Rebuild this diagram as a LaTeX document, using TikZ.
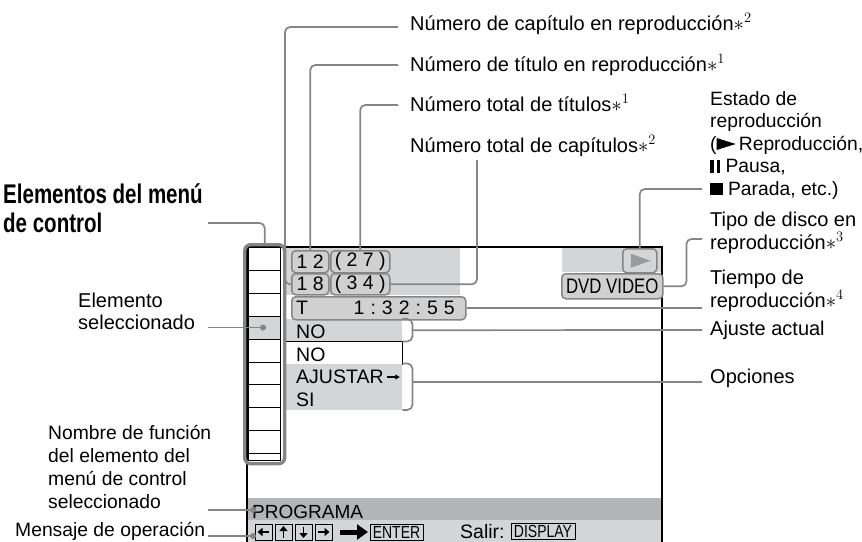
\documentclass[tikz,border=0pt]{standalone}
\usepackage{fontspec}
\setmainfont{Liberation Sans}
\newfontfamily\condfont[FakeStretch=0.8]{Liberation Sans}
\newfontfamily\boldcond[FakeStretch=0.76]{Liberation Sans}
\usetikzlibrary{arrows.meta,calc}
\definecolor{leadgray}{HTML}{858585}
\definecolor{scrgray}{HTML}{D4D5D6}
\definecolor{bargray}{HTML}{B2B4B6}
\definecolor{boxgray}{HTML}{D0D0D0}
\definecolor{playgray}{HTML}{9A9A9A}
\newcommand\playsym{\tikz[x=1pt,y=1pt,baseline=0pt]\fill (0,0) -- (19,6) -- (0,12) -- cycle;}
\newcommand\pausesym{\tikz[x=1pt,y=1pt,baseline=0pt]{\fill (0,0) rectangle (3.6,13); \fill (6.4,0) rectangle (10,13);}}
\newcommand\stopsym{\tikz[x=1pt,y=1pt,baseline=0pt]\fill (0,0) rectangle (12.5,12.5);}
\begin{document}
\begin{tikzpicture}[x=1pt,y=-1pt,
  lead/.style={draw=leadgray,line width=1.7pt,rounded corners=5pt},
  lbl/.style={anchor=base west,inner sep=0pt,font=\fontsize{20}{23}\selectfont},
  lblr/.style={anchor=base west,inner sep=0pt,font=\fontsize{19.3}{23}\selectfont},
  scr/.style={anchor=base west,inner sep=0pt,font=\fontsize{19.5}{22}\selectfont},
  ovbox/.style={draw=leadgray,line width=1.5pt,rounded corners=4pt,fill=boxgray,inner sep=0pt,anchor=north west,font=\fontsize{19.5}{22}\selectfont},
  area/.style={inner sep=0pt,anchor=north west},
  keybox/.style={draw=black,line width=0.8pt,inner sep=0pt},
  ldot/.style={circle,fill=leadgray,inner sep=0pt,minimum size=6pt},
  keyarrow/.style={line width=1.8pt,-{Triangle[length=5pt,width=8pt]}},
  keyfont/.style={font=\condfont\fontsize{17.5}{18}\selectfont}
]
\useasboundingbox (0,0) rectangle (862,541);

% ---- screen areas
\fill[scrgray] (284,248) rectangle (460,295);
\fill[scrgray] (562,248) rectangle (661,272);
\node[area,fill=scrgray,minimum width=118pt,minimum height=22pt] (rowNO) at (284,319) {};
\node[area,draw=black,line width=1pt,fill=white,minimum width=118pt,minimum height=23pt] (rowNO2) at (284,340.5) {};
\node[area,fill=scrgray,minimum width=118pt,minimum height=46pt] (rowOpt) at (284,363.5) {};
\node[area,fill=bargray,minimum width=413pt,minimum height=22pt] (barProg) at (248,498) {};
\node[area,fill=scrgray,minimum width=413pt,minimum height=22pt] (barMsg) at (248,520) {};

% screen frame
\draw[line width=1.6pt] (247,548) -- (247,247) -- (662,247) -- (662,548);

% ---- menu column
\fill[scrgray] (248,316) rectangle (280,339);
\draw[line width=1pt] (248,247) rectangle (280,460);
\foreach \yy in {270,293,316,339,362,384,407,430,453} \draw[line width=1pt] (248,\yy) -- (280,\yy);
\node[area,draw=leadgray,line width=3.4pt,rounded corners=6pt,minimum width=40pt,minimum height=219pt] (menuFrame) at (243,243) {};
\node[ldot] (selDot) at (263,327.5) {};

% ---- screen texts
\node[scr] (tNO) at (296,338) {NO};
\node[scr] (tNO2) at (296,361) {NO};
\node[scr] (tAj) at (296,383.5) {AJUSTAR};
\draw[line width=1.2pt,-{Triangle[length=4.5pt,width=5pt]}] ($(tAj.base east)+(3,-6.5)$) -- ($(tAj.base east)+(16,-6.5)$);
\node[scr] (tSI) at (296,406.5) {SI};

% number boxes
\node[ovbox,minimum width=37pt,minimum height=22pt] (b12) at (291,250) {1 2};
\node[ovbox,minimum width=59pt,minimum height=22pt] (b27) at (330,250) {( 2 7 )};
\node[ovbox,minimum width=37pt,minimum height=21pt] (b18) at (291,273) {1 8};
\node[ovbox,minimum width=59pt,minimum height=21pt] (b34) at (330,273) {( 3 4 )};
\node[ovbox,minimum width=174pt,minimum height=23pt] (bT) at (291,296) {};
\node[scr] (tT) at (296,314) {T};
\node[scr,anchor=base east] (tTime) at (455,314) {1\hspace{6pt}:\hspace{6pt}3\hspace{6pt}2\hspace{6pt}:\hspace{6pt}5\hspace{6pt}5};

% play and disc type
\node[area,draw=leadgray,line width=1.5pt,rounded corners=4pt,fill=scrgray,minimum width=34pt,minimum height=24pt] (bPlay) at (622,248) {};
\fill[playgray] ($(bPlay.center)+(-9,-7)$) -- ($(bPlay.center)+(11,0)$) -- ($(bPlay.center)+(-9,7)$) -- cycle;
\node[ovbox,minimum width=101pt,minimum height=25pt,font=\condfont\fontsize{21}{22}\selectfont] (bDVD) at (561,273) {DVD VIDEO};

% bottom bars
\node[scr,font=\fontsize{19}{22}\selectfont] (tProg) at (252,518) {PROGRAMA};
\foreach \i/\xx in {1/263.5,2/283.5,3/303.5,4/323.5}
  \node[keybox,minimum width=17pt,minimum height=16pt] (k\i) at (\xx,532) {};
\draw[keyarrow] ($(k1.center)+(5.5,0)$) -- ($(k1.center)+(-6,0)$);
\draw[keyarrow] ($(k2.center)+(0,5.5)$) -- ($(k2.center)+(0,-6)$);
\draw[keyarrow] ($(k3.center)+(0,-5.5)$) -- ($(k3.center)+(0,6)$);
\draw[keyarrow] ($(k4.center)+(-5.5,0)$) -- ($(k4.center)+(6,0)$);
\draw[line width=5pt,-{Triangle[length=11pt,width=15pt]}] (340,532) -- (368,532);
\node[keybox,keyfont,minimum width=53pt,minimum height=16pt] (kEnter) at (396.5,532) {ENTER};
\node[scr,font=\fontsize{19.5}{22}\selectfont] (tSalir) at (460,538) {Salir:};
\node[keybox,keyfont,minimum width=64pt,minimum height=16pt] (kDisp) at (543,531) {DISPLAY};

% ---- labels
\node[lbl] (lCap) at (410,30) {Número de capítulo en reproducción$\ast^{2}$};
\node[lbl] (lTit) at (410,71) {Número de título en reproducción$\ast^{1}$};
\node[lbl] (lTT) at (410,111) {Número total de títulos$\ast^{1}$};
\node[lbl] (lTC) at (410,152) {Número total de capítulos$\ast^{2}$};

\node[lblr] (lEst1) at (710,105) {Estado de};
\node[lblr] (lEst2) at (710,127.5) {reproducción};
\node[lblr] (lEst3) at (710,150) {(\playsym\,Reproducción,};
\node[lblr] (lEst4) at (710,172.5) {\pausesym\ Pausa,};
\node[lblr] (lEst5) at (710,195) {\stopsym\ Parada, etc.)};
\node[lbl] (lTipo1) at (710,226.5) {Tipo de disco en};
\node[lbl] (lTipo2) at (710,249.5) {reproducción$\ast^{3}$};
\node[lbl] (lTiem1) at (710,284) {Tiempo de};
\node[lbl] (lTiem2) at (710,307) {reproducción$\ast^{4}$};
\node[lbl] (lAjus) at (710,335) {Ajuste actual};
\node[lbl] (lOpc) at (710,383) {Opciones};

\node[anchor=base west,inner sep=0pt,font=\boldcond\bfseries\fontsize{27}{30}\selectfont] (lMenu1) at (3,203) {Elementos del menú};
\node[anchor=base west,inner sep=0pt,font=\boldcond\bfseries\fontsize{27}{30}\selectfont] (lMenu2) at (3,232) {de control};
\node[lbl] (lSel1) at (78,307) {Elemento};
\node[lbl] (lSel2) at (78,329) {seleccionado};
\node[lblr] (lNom1) at (48,439) {Nombre de función};
\node[lblr] (lNom2) at (48,462) {del elemento del};
\node[lblr] (lNom3) at (48,485) {menú de control};
\node[lblr] (lNom4) at (48,508) {seleccionado};
\node[lblr] (lMen) at (15,536.5) {Mensaje de operación};

% ---- connector ends
\coordinate (cCap) at (398,27);
\coordinate (cTit) at (398,65);
\coordinate (cTT) at (398,105);
\coordinate (cTC) at (477,160);
\coordinate (cPlay) at (702,189);
\coordinate (cTipo) at (702,239);
\coordinate (cTiem) at (702,307.5);
\coordinate (cAjus) at (702,330);
\coordinate (cOpc) at (702,382);
\coordinate (cElem) at (208,223);
\coordinate (cSel) at (208,327.5);
\coordinate (cNom) at (208,510);
\coordinate (cMen) at (208,536);

\node[ldot] (dNom) at (253,510) {};
\node[ldot] (dMen) at (253,536) {};

% ---- connectors
\draw[lead] (cCap) -| ([xshift=-6pt]b18.west) -- (b18.west);
\draw[lead] (cTit) -| (b12.north);
\draw[lead] (cTT) -| (b27.north);
\draw[lead] (cTC) |- (b34.east);
\draw[lead] (cPlay) -| (bPlay.north);
\draw[lead] (cTipo) -| ([xshift=23pt]bDVD.east) -- (bDVD.east);
\draw[lead] (bT.east) -- (bT.east -| cTiem);
\draw[lead] (rowNO.north east) -| ([xshift=10pt]rowNO.south east) -- (rowNO.south east);
\draw[lead] ([xshift=10pt]rowNO.east) -- (cAjus);
\draw[lead] (rowOpt.north east) -| ([xshift=10pt]rowOpt.south east) -- (rowOpt.south east);
\draw[lead] ([xshift=10pt]rowOpt.east |- cOpc) -- (cOpc);
\draw[lead] (cElem) -| (menuFrame.north);
\draw[lead] (cSel) -- (selDot);
\draw[lead] (cNom) -- (dNom);
\draw[lead] (cMen) -- (dMen);
\end{tikzpicture}
\end{document}
